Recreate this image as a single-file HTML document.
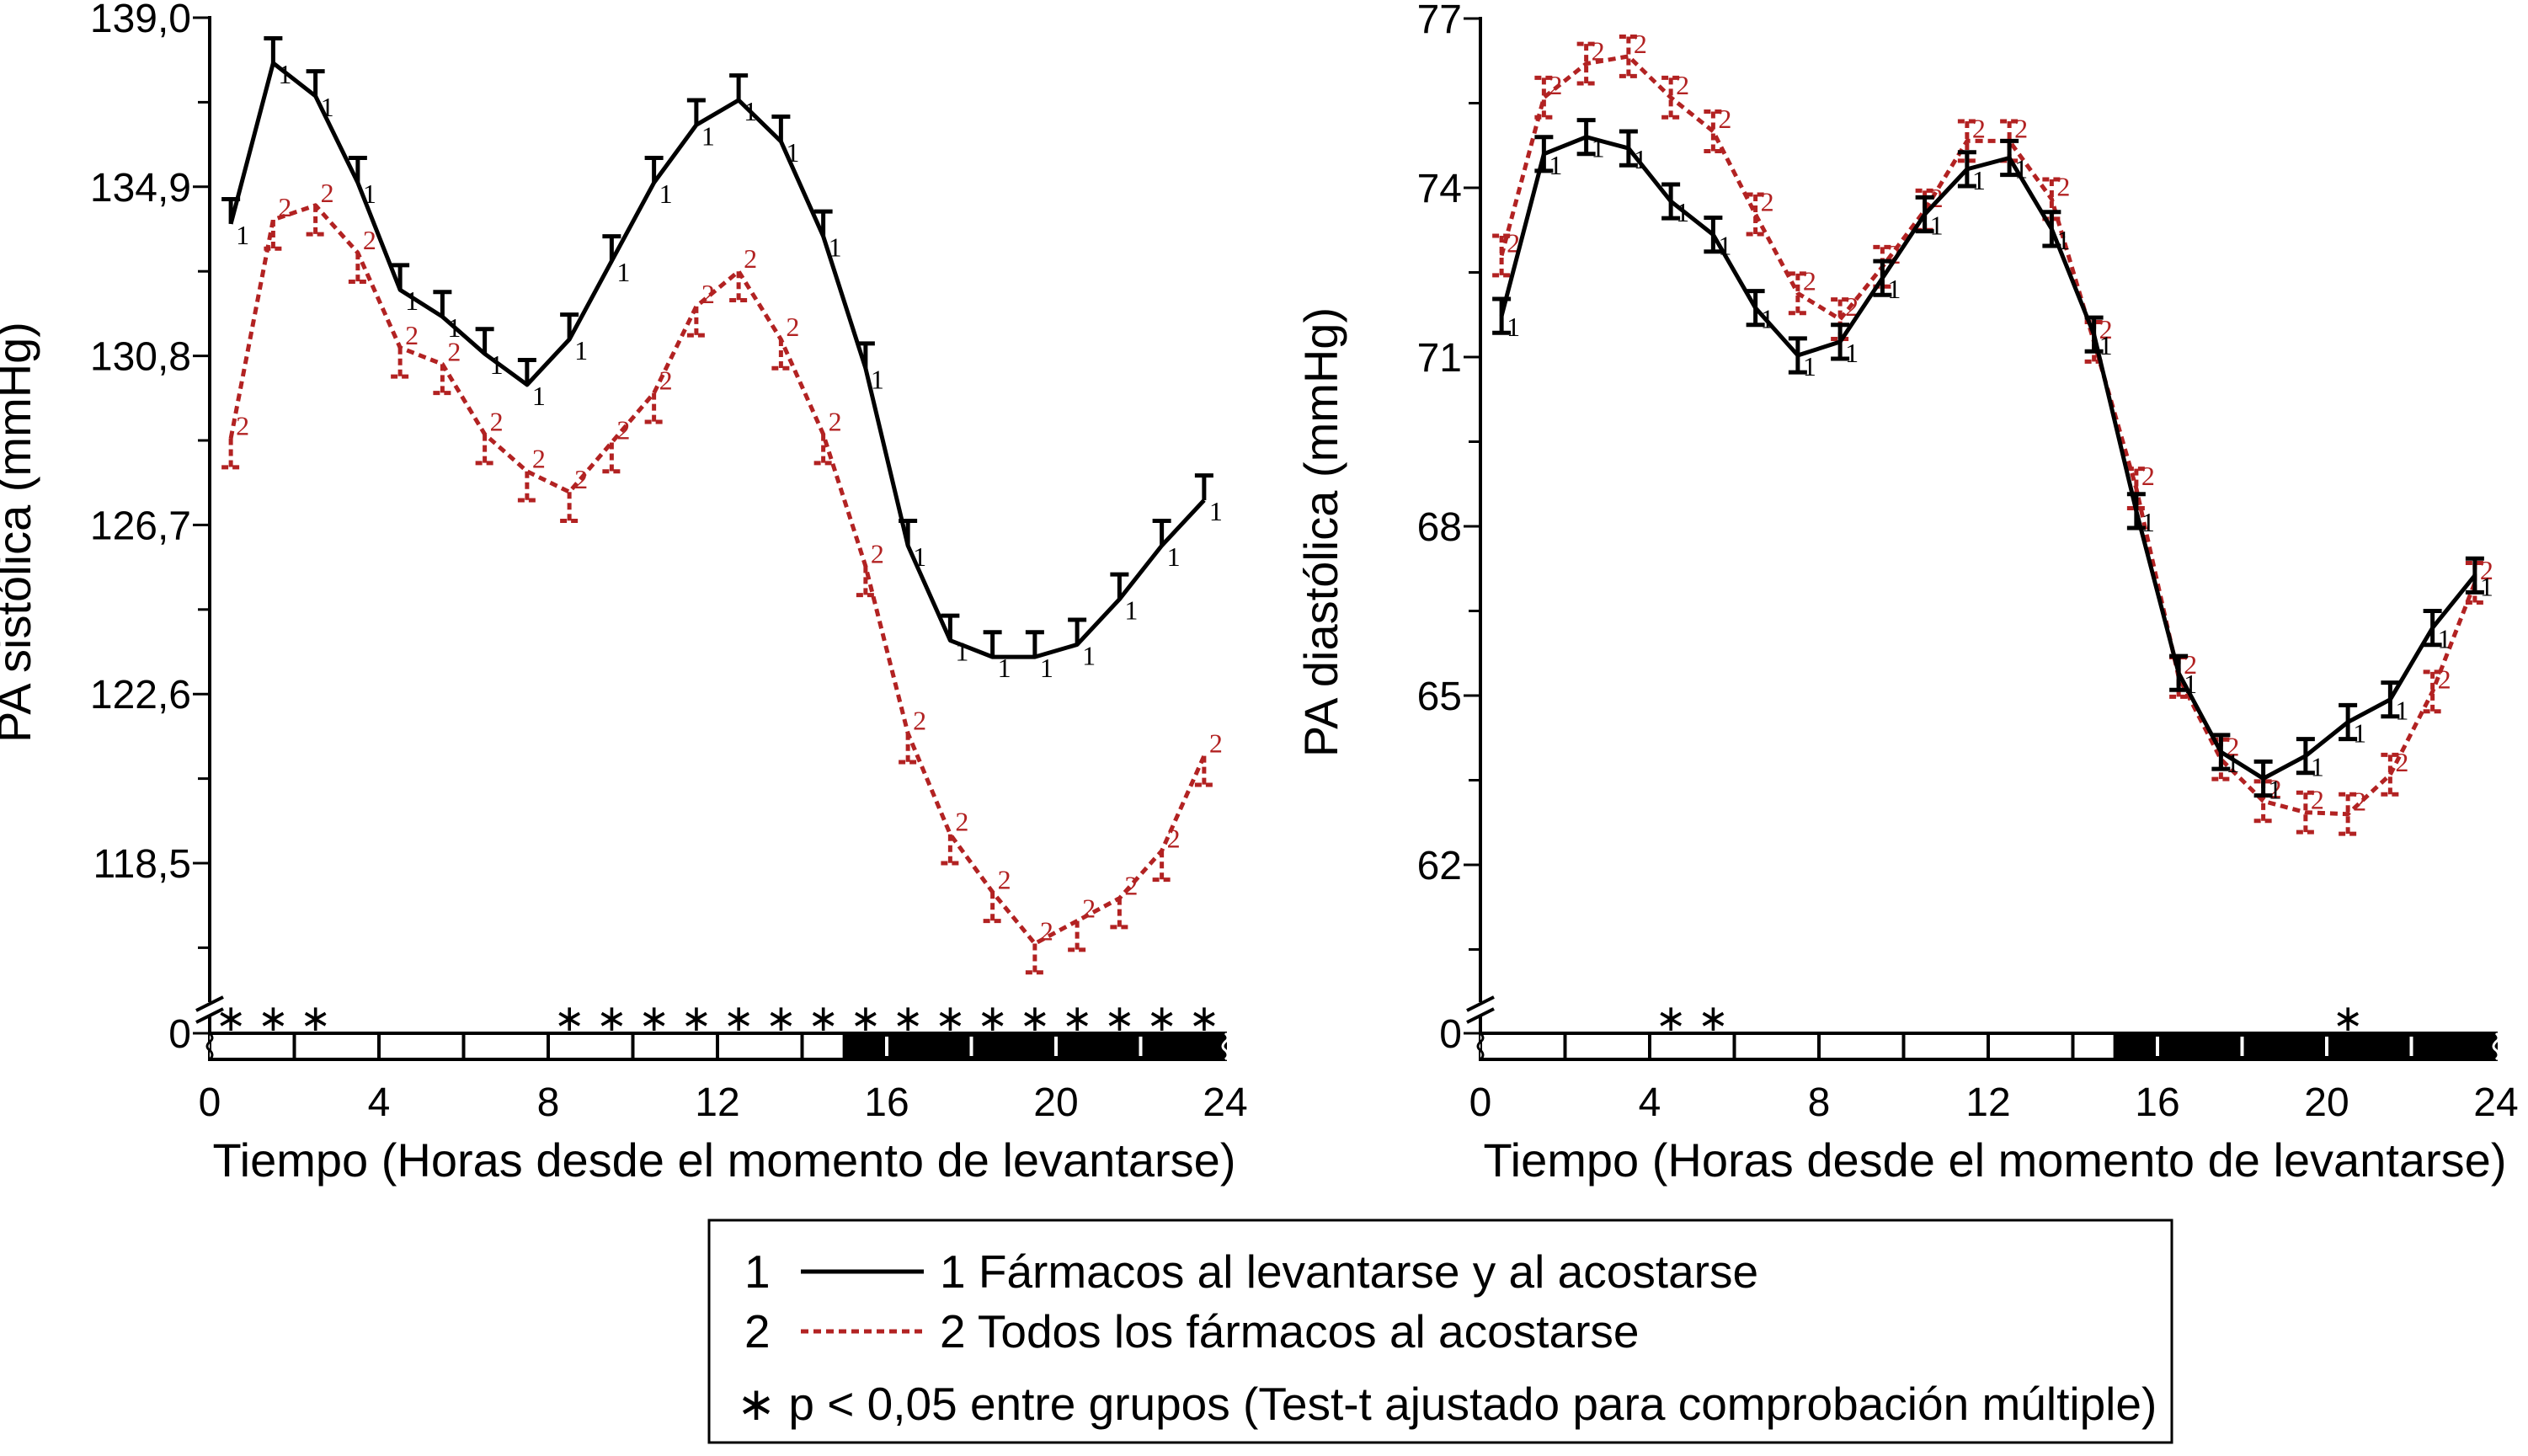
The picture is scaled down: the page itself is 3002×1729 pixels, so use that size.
<!DOCTYPE html>
<html><head><meta charset="utf-8"><style>
html,body{margin:0;padding:0;background:#fff;}
svg{display:block;font-family:"Liberation Sans",sans-serif;}
</style></head><body>
<svg id="chart" width="3002" height="1729" viewBox="0 0 3002 1729" xmlns="http://www.w3.org/2000/svg">
<g id="left"></g>
<g id="right"></g>
<g>
<rect x="842" y="1449" width="1737" height="264" fill="#fff" stroke="#000" stroke-width="3"/>
<text x="884" y="1529" font-size="55">1</text>
<line x1="951" y1="1510" x2="1097" y2="1510" stroke="#000" stroke-width="5"/>
<text x="1116" y="1529" font-size="55">1 Fármacos al levantarse y al acostarse</text>
<text x="884" y="1600" font-size="55">2</text>
<line x1="951" y1="1581" x2="1097" y2="1581" stroke="#b22222" stroke-width="5" stroke-dasharray="9,6"/>
<text x="1116" y="1600" font-size="55">2 Todos los fármacos al acostarse</text>
<text x="875" y="1686" font-size="55">∗ p &lt; 0,05 entre grupos (Test-t ajustado para comprobación múltiple)</text>
</g>
</svg>
<script>
const hours = [0.5,1.5,2.5,3.5,4.5,5.5,6.5,7.5,8.5,9.5,10.5,11.5,12.5,13.5,14.5,15.5,16.5,17.5,18.5,19.5,20.5,21.5,22.5,23.5];
const sysG1 = [134.0,137.9,137.1,135.0,132.4,131.75,130.85,130.1,131.2,133.1,135.0,136.4,137.0,136.0,133.7,130.5,126.2,123.9,123.5,123.5,123.8,124.9,126.2,127.3];
const sysG2 = [128.8,134.1,134.45,133.3,131.0,130.6,128.9,128.0,127.5,128.7,129.9,132.0,132.85,131.2,128.9,125.7,121.65,119.2,117.8,116.55,117.1,117.65,118.8,121.1];
const diaG1 = [71.73,74.6,74.9,74.7,73.76,73.17,71.87,71.03,71.27,72.4,73.53,74.33,74.53,73.27,71.4,68.27,65.4,64.0,63.53,63.93,64.53,64.93,66.2,67.13];
const diaG2 = [72.8,75.6,76.2,76.33,75.6,75.0,73.53,72.13,71.67,72.6,73.6,74.83,74.83,73.8,71.27,68.67,65.33,63.87,63.13,62.93,62.9,63.6,65.07,67.0];
const sysTicks = ["139,0","134,9","130,8","126,7","122,6","118,5"];
const sysTickVals = [139.0,134.9,130.8,126.7,122.6,118.5];
const diaTicks = ["77","74","71","68","65","62"];
const diaTickVals = [77,74,71,68,65,62];
const xTicks = [0,4,8,12,16,20,24];
const sysStars = [0.5,1.5,2.5,8.5,9.5,10.5,11.5,12.5,13.5,14.5,15.5,16.5,17.5,18.5,19.5,20.5,21.5,22.5,23.5];
const diaStars = [4.5,5.5,20.5];
const sysErr1 = 0.6, sysErr2 = 0.7, diaErr1 = 0.3, diaErr2 = 0.35;

const NS = "http://www.w3.org/2000/svg";
function mk(parent, tag, attrs, txt){
  const e = document.createElementNS(NS, tag);
  for (const k in attrs) e.setAttribute(k, attrs[k]);
  if (txt !== undefined) e.textContent = txt;
  parent.appendChild(e); return e;
}

function panel(g, cfg){
  const x0 = cfg.x0, x1 = x0 + 1206;
  const xS = h => x0 + (x1 - x0) * h / 24;
  const yS = v => cfg.yTop + (v - cfg.vTop) / (cfg.vBot - cfg.vTop) * (cfg.yBot - cfg.yTop);
  const ax = mk(g, 'line', {x1:x0, y1:cfg.yTop-2, x2:x0, y2:1190, stroke:'#000','stroke-width':4});
  
  
  const br = mk(g, 'path', {d:`M${x0-16} ${1200} L${x0+16} ${1184} M${x0-16} ${1214} L${x0+16} ${1198}`, stroke:'#000','stroke-width':4, fill:'none'});
  
  
  mk(g, 'line', {x1:x0, y1:1205, x2:x0, y2:1227, stroke:'#000','stroke-width':4});
  cfg.tickVals.forEach((v,i)=>{
    const y = yS(v);
    const t = mk(g, 'line', {x1:x0-20, y1:y, x2:x0, y2:y, stroke:'#000','stroke-width':3});
    
    
    const l = mk(g, 'text', {x:x0-22, y:y+17, 'font-size':48, 'text-anchor':'end'}, cfg.tickLabels[i]);
    
    
    const step = cfg.tickVals[1]-cfg.tickVals[0];
    const ym = yS(v + step/2);
    mk(g, 'line', {x1:x0-14, y1:ym, x2:x0, y2:ym, stroke:'#000','stroke-width':3});
  });
  const z = mk(g, 'text', {x:x0-22, y:1244, 'font-size':48, 'text-anchor':'end'}, '0');
  
  
  mk(g, 'line', {x1:x0-20, y1:1227, x2:x0, y2:1227, stroke:'#000','stroke-width':3});
  const bar = mk(g, 'g', {});
  
  
  mk(bar, 'rect', {x:x0, y:1227, width:xS(15)-x0, height:31, fill:'#fff', stroke:'#000','stroke-width':4});
  mk(bar, 'rect', {x:xS(15), y:1227, width:x1-xS(15), height:31, fill:'#000', stroke:'#000','stroke-width':4});
  for (let h=2; h<24; h+=2){
    mk(bar, 'line', {x1:xS(h), y1:h>15?1231:1227, x2:xS(h), y2:h>15?1254:1258, stroke:h>15?'#fff':'#000','stroke-width':4});
  }
  mk(bar, 'path', {d:`M${x0} 1227 q6 6 0 10 q-6 6 0 10 q6 6 0 11`, stroke:'#000','stroke-width':3, fill:'#fff'});
  mk(bar, 'path', {d:`M${x1} 1227 q6 6 0 10 q-6 6 0 10 q6 6 0 11`, stroke:'#fff','stroke-width':3, fill:'none'});
  xTicks.forEach(h=>{
    const l = mk(g, 'text', {x:xS(h), y:1325, 'font-size':48, 'text-anchor':'middle'}, String(h));
    
    
  });
  cfg.stars.forEach(h=>{
    const s = mk(g, 'text', {x:xS(h), y:1224, 'font-size':44, 'text-anchor':'middle'}, '∗');
    
    
  });
  const xt = mk(g, 'text', {x:(x0+x1)/2+8, y:1397, 'font-size':56, 'text-anchor':'middle'}, 'Tiempo (Horas desde el momento de levantarse)');
  
  
  const cy = 632, cx = cfg.ytx;
  const yt = mk(g, 'text', {x:cx, y:cy, 'font-size':56, 'text-anchor':'middle', transform:`rotate(-90 ${cx} ${cy})`}, cfg.ytitle);
  
  
  function series(vals, err, color, dash, label, up, down, name){
    const sg = mk(g, 'g', {});
    
    
    const pts = vals.map((v,i)=>xS(hours[i])+','+yS(v)).join(' ');
    const attrs = {points:pts, fill:'none', stroke:color, 'stroke-width':5, 'stroke-linejoin':'round'};
    if (dash) attrs['stroke-dasharray'] = '9,6';
    const pl = mk(sg, 'polyline', attrs);
    
    
    vals.forEach((v,i)=>{
      const x = xS(hours[i]);
      const yt = up ? yS(v+err) : yS(v);
      const yb = down ? yS(v-err) : yS(v);
      const eb = mk(sg, 'path', {d:`M${x} ${yt} L${x} ${yb} ${up?`M${x-11} ${yt} L${x+11} ${yt}`:''} ${down?`M${x-11} ${yb} L${x+11} ${yb}`:''}`, stroke:color, 'stroke-width':5, fill:'none', 'stroke-dasharray':dash?'8,5':'none'});
      
      
      const lb = mk(sg, 'text', {x:x+6, y:yS(v)+(label==='1'?24:-4), 'font-size':32, fill:color, 'font-family':'"Liberation Serif",serif'}, label);
      
      
    });
  }
  series(cfg.g2, cfg.e2, '#b22222', true, '2', cfg.up2, cfg.down2, 'series-all-bedtime');
  series(cfg.g1, cfg.e1, '#000', false, '1', cfg.up1, cfg.down1, 'series-split-dose');
}

panel(document.getElementById('left'), {x0:249, yTop:21, yBot:1025, vTop:139.0, vBot:118.5, ytx:36,
  tickVals:sysTickVals, tickLabels:sysTicks, stars:sysStars, ytitle:'PA sistólica (mmHg)',
  g1:sysG1, g2:sysG2, e1:sysErr1, e2:sysErr2, up1:true, down1:false, up2:false, down2:true});
panel(document.getElementById('right'), {x0:1758, yTop:22, yBot:1027, vTop:77, vBot:62, ytx:1588,
  tickVals:diaTickVals, tickLabels:diaTicks, stars:diaStars, ytitle:'PA diastólica (mmHg)',
  g1:diaG1, g2:diaG2, e1:diaErr1, e2:diaErr2, up1:true, down1:true, up2:true, down2:true});
</script>
</body></html>
